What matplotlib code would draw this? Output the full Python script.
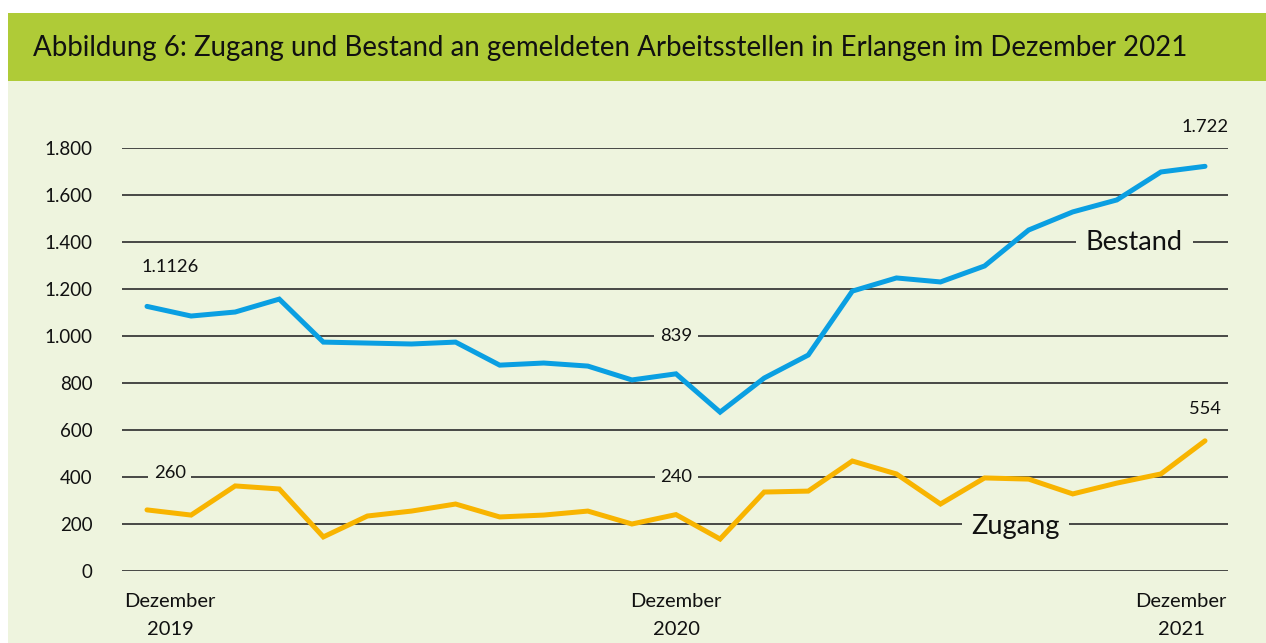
import matplotlib
matplotlib.use("Agg")
import matplotlib.pyplot as plt
from matplotlib.patches import Rectangle

# ---- data ----
months = list(range(25))  # Dez 2019 .. Dez 2021
bestand = [1126, 1085, 1102, 1157, 974, 970, 966, 974, 876, 885, 872, 813,
           839, 676, 821, 919, 1191, 1247, 1230, 1298, 1451, 1528, 1579, 1698, 1722]
zugang = [260, 238, 362, 349, 145, 234, 255, 285, 230, 238, 255, 200,
          240, 136, 336, 340, 468, 413, 285, 396, 391, 328, 374, 413, 554]
yticks = [0, 200, 400, 600, 800, 1000, 1200, 1400, 1600, 1800]
ytick_labels = ["0", "200", "400", "600", "800", "1.000", "1.200", "1.400", "1.600", "1.800"]
xlabels = ["Dezember\n2019", "Dezember\n2020", "Dezember\n2021"]
title = "Abbildung 6: Zugang und Bestand an gemeldeten Arbeitsstellen in Erlangen im Dezember 2021"

BLUE = "#0a9fe2"
ORANGE = "#f8b400"
BAR = "#afcb37"
PANEL = "#eef4de"
GRID = "#3a3a3a"
plt.rcParams['font.family'] = ['Lato', 'DejaVu Sans']

W, H = 1266, 643
fig = plt.figure(figsize=(W / 100, H / 100), dpi=100)
fig.patch.set_facecolor("white")

# panel backgrounds
fig.patches.append(Rectangle((8 / W, 0), 1 - 8 / W, (H - 81) / H, transform=fig.transFigure,
                             facecolor=PANEL, edgecolor="none", zorder=-10))
fig.patches.append(Rectangle((8 / W, (H - 81) / H), 1 - 8 / W, 68 / H, transform=fig.transFigure,
                             facecolor=BAR, edgecolor="none", zorder=-10))
fig.text(33 / W, (H - 48) / H, title, fontsize=19.9, va="center", ha="left", color="#111111")

ax = fig.add_axes([122 / W, (H - 571) / H, (1228 - 122) / W, (571 - 148) / H])
ax.set_zorder(5)
ax.set_facecolor("none")
ax.set_xlim(-25 / 44.08, 24 + 23 / 44.08)
ax.set_ylim(0, 1800)
for s in ax.spines.values():
    s.set_visible(False)
ax.set_yticks(yticks)
ax.set_yticklabels(ytick_labels, fontsize=13.5, color="#111111")
ax.tick_params(axis="y", length=0, pad=21)
ax.set_xticks([])
for y in yticks:
    ax.axhline(y, color=GRID, lw=1.3, zorder=1)

ax.plot(months, bestand, color=BLUE, lw=3.6, zorder=3, solid_capstyle="round", solid_joinstyle="miter")
ax.plot(months, zugang, color=ORANGE, lw=3.6, zorder=3, solid_capstyle="round", solid_joinstyle="miter")

lbl = dict(fontsize=13.2, color="#111111", ha="center", va="center", zorder=4,
           bbox=dict(facecolor=PANEL, edgecolor="none", pad=4))
ax.text(months[0] + 0.52, 1295, "1.1126", **lbl)
ax.text(months[12], 1000, "839", **lbl)
ax.text(months[24], 1890, "1.722", **lbl)
ax.text(months[0] + 0.52, 415, "260", **lbl)
ax.text(months[12], 400, "240", **lbl)
ax.text(months[24], 690, "554", **lbl)

big = dict(fontsize=19.5, color="#111111", ha="center", va="center", zorder=4,
           bbox=dict(facecolor=PANEL, edgecolor="none", pad=7))
ax.text(22.4, 1400, "Bestand", **big)
ax.text(19.7, 190, "Zugang", **big)

# x labels
xl = dict(fontsize=14.5, color="#111111", va="top", linespacing=1.75)
ax.text(0.0435, -0.053, xlabels[0], transform=ax.transAxes, ha="center", **xl)
ax.text(months[12], -0.053, xlabels[1], transform=ax.get_xaxis_transform(), ha="center", **xl)
ax.text(0.9575, -0.053, xlabels[2], transform=ax.transAxes, ha="center", **xl)

fig.savefig("out.png", dpi=100, facecolor=fig.get_facecolor())
